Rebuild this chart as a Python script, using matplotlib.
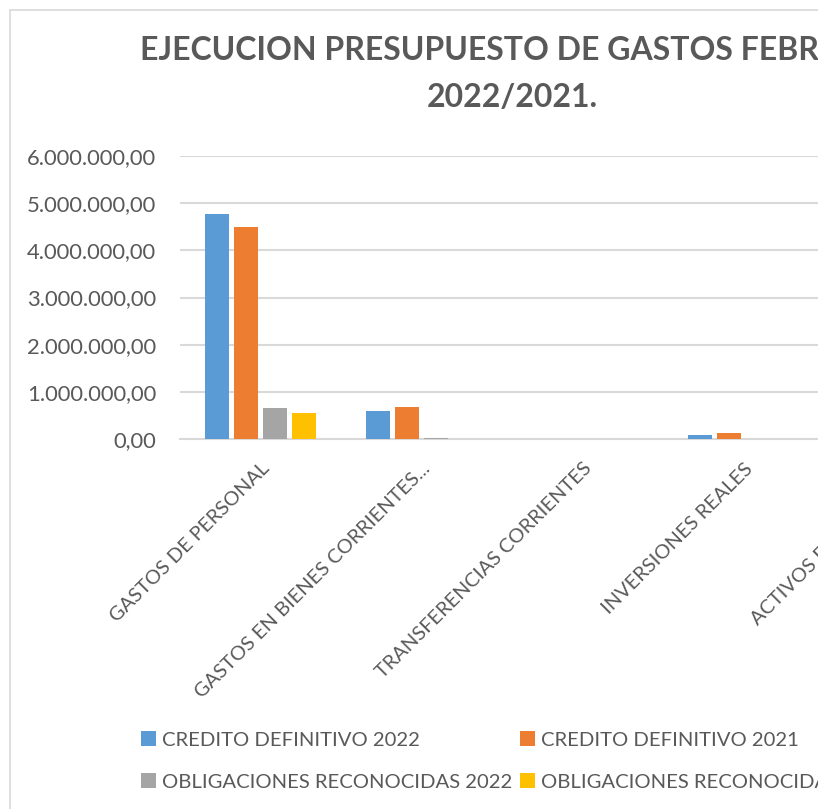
import matplotlib
matplotlib.use("Agg")
import matplotlib.pyplot as plt
from matplotlib.patches import Rectangle
from matplotlib.ticker import FuncFormatter
import numpy as np

plt.rcParams['font.family'] = ['Lato', 'DejaVu Sans']

categorias = ["GASTOS DE PERSONAL", "GASTOS EN BIENES CORRIENTES...",
              "TRANSFERENCIAS CORRIENTES", "INVERSIONES REALES",
              "ACTIVOS FINANCIEROS"]
series = ["CREDITO DEFINITIVO 2022", "CREDITO DEFINITIVO 2021",
          "OBLIGACIONES RECONOCIDAS 2022", "OBLIGACIONES RECONOCIDAS 2021"]
credito_2022 = [4770000, 590000, 0, 85000, 0]
credito_2021 = [4490000, 680000, 0, 125000, 0]
obligaciones_2022 = [660000, 20000, 0, 0, 0]
obligaciones_2021 = [550000, 5000, 0, 0, 0]
colores = ["#5B9BD5", "#ED7D31", "#A5A5A5", "#FFC000"]

valores = [credito_2022, credito_2021, obligaciones_2022, obligaciones_2021]

fig = plt.figure(figsize=(8.18, 8.09), dpi=100)
# marco del grafico (se sale por la derecha como en el original)
fig.patches.append(Rectangle((10/818, -0.1), 1.2, 1 - 10/809 + 0.1,
                             transform=fig.transFigure, fill=False,
                             edgecolor="#d9d9d9", linewidth=1.2))

ax = fig.add_axes([180/818, 370/809, 805/818, 283/809])
x = np.arange(len(categorias))
paso = 0.18
ancho = 0.149
barras = []
for i, (nombre, vals, c) in enumerate(zip(series, valores, colores)):
    barras.append(ax.bar(x + (i - 1.5) * paso, vals, width=ancho, color=c,
                         label=nombre, zorder=3))

ax.set_xlim(-0.5, len(categorias) - 0.5)
ax.set_ylim(0, 6000000)
ax.set_yticks(np.arange(0, 6000001, 1000000))
ax.yaxis.set_major_formatter(FuncFormatter(
    lambda v, p: f"{v:,.2f}".replace(",", "X").replace(".", ",").replace("X", ".")))
ax.grid(axis="y", color="#d9d9d9", linewidth=1.5, zorder=0)
for s in ["top", "right", "left"]:
    ax.spines[s].set_visible(False)
ax.spines["bottom"].set_color("#d9d9d9")
ax.spines["bottom"].set_linewidth(1.5)
ax.tick_params(axis="both", length=0, colors="#595959")
ax.tick_params(axis="y", pad=17, labelsize=15.8)
ax.set_xticks(x)
ax.set_xticklabels(categorias, rotation=45, ha="right", va="top",
                   rotation_mode="anchor")
ax.tick_params(axis="x", pad=15, labelsize=14.4)

fig.text(512/818, 1 - 74/809, "EJECUCION PRESUPUESTO DE GASTOS FEBRERO\n2022/2021.",
         ha="center", va="center", fontsize=23, fontweight="bold",
         color="#595959", linespacing=1.75)

orden = [0, 2, 1, 3]
fig.legend([barras[i] for i in orden], [series[i] for i in orden],
           loc="center", bbox_to_anchor=(516/818, 1 - 761/809), ncol=2,
           frameon=False, fontsize=14.6, labelcolor="#595959",
           handlelength=0.75, handleheight=0.75, handletextpad=0.3,
           columnspacing=0.35, labelspacing=1.2)

fig.savefig("out.png", dpi=100)
